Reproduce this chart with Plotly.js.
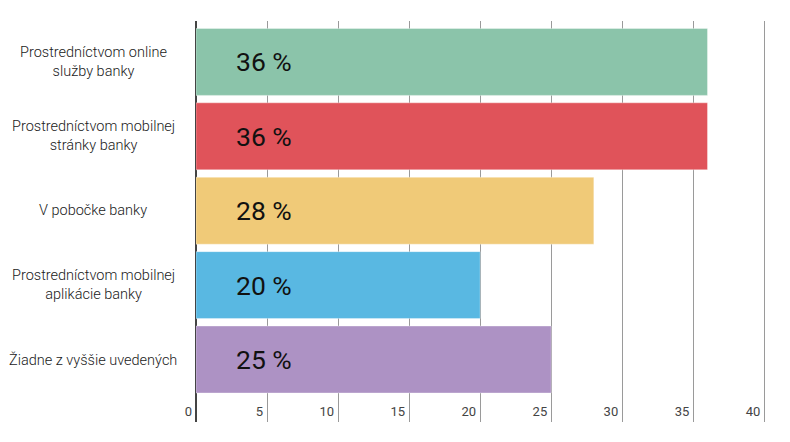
<!DOCTYPE html>
<html>
<head>
<meta charset="utf-8">
<script src="https://cdn.plot.ly/plotly-3.0.1.min.js"></script>
<style>html,body{margin:0;padding:0;background:#fff;}</style>
</head>
<body>
<div id="chart" style="width:790px;height:442px;"></div>
<script>
const categories = [
  "Prostredníctvom online<br>služby banky",
  "Prostredníctvom mobilnej<br>stránky banky",
  "V pobočke banky",
  "Prostredníctvom mobilnej<br>aplikácie banky",
  "Žiadne z vyššie uvedených"
];
const values = [36, 36, 28, 20, 25];
const barColors = ["#8BC4AA", "#E0535A", "#F0CA78", "#59B8E2", "#AD92C4"];
const tickValues = [0, 5, 10, 15, 20, 25, 30, 35, 40];

const ids = categories.map((c, i) => "c" + i);

const trace = {
  type: "bar",
  orientation: "h",
  y: ids,
  x: values,
  marker: {color: barColors, line: {color: "rgba(255,255,255,0.35)", width: 1}},
  hoverinfo: "none"
};

const annotations = [];
categories.forEach((c, i) => {
  annotations.push({
    xref: "paper", yref: "y", x: 0, y: ids[i], xshift: -103,
    xanchor: "center", yanchor: "middle", align: "center",
    text: c, showarrow: false,
    font: {family: "Roboto", size: 14.5, color: "#1a1a1a", weight: 300}
  });
  annotations.push({
    xref: "x", yref: "y", x: 0, y: ids[i], xshift: 38,
    xanchor: "left", yanchor: "middle",
    text: values[i] + " %", showarrow: false,
    font: {family: "Roboto", size: 26.5, color: "#111", weight: 400}
  });
});

const layout = {
  width: 790, height: 442,
  margin: {l: 196, r: 20, t: 21, b: 20},
  paper_bgcolor: "#fff", plot_bgcolor: "#fff",
  showlegend: false,
  bargap: 0.1,
  xaxis: {
    range: [0, 40.4],
    tickvals: tickValues,
    ticktext: tickValues.map(String),
    showgrid: true, gridcolor: "#9a9a9a", gridwidth: 1,
    zeroline: true, zerolinecolor: "#444", zerolinewidth: 2,
    ticklabelposition: "inside left",
    ticklabeloverflow: "allow",
    ticklabelshift: -4,
    ticklabelstandoff: -3,
    ticks: "",
    tickfont: {family: "Roboto", size: 13, color: "#444", weight: 400},
    showline: false,
    fixedrange: true
  },
  yaxis: {
    type: "category",
    range: [4.84, -0.55],
    showticklabels: false,
    showgrid: false, zeroline: false, showline: false, ticks: "",
    fixedrange: true
  },
  annotations: annotations
};

Plotly.newPlot("chart", [trace], layout, {displayModeBar: false, staticPlot: true});
</script>
</body>
</html>
